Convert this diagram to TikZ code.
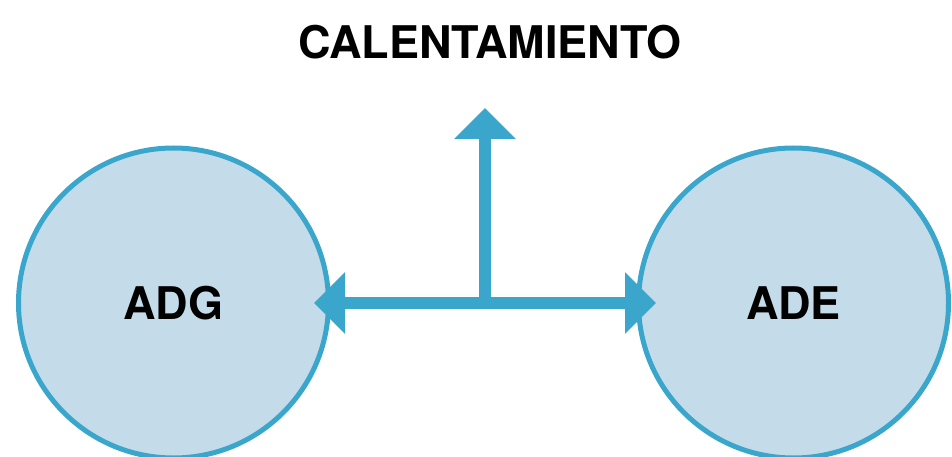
\documentclass[tikz,border=0pt]{standalone}
\usepackage{fontspec}
\setmainfont{TeX Gyre Heros}
\usetikzlibrary{arrows.meta}
\definecolor{cblue}{RGB}{58,166,204}
\definecolor{cfill}{RGB}{196,220,233}
\tikzset{
  blob/.style={circle, draw=cblue, line width=5pt, fill=cfill, minimum size=310pt, inner sep=0pt,
    font=\fontsize{45}{50}\selectfont\bfseries},
  bigarrow/.style={draw=cblue, line width=12pt, -{Triangle[length=31pt,width=60pt]}, color=cblue},
  title/.style={font=\fontsize{45}{50}\selectfont\bfseries}
}
\begin{document}
\begin{tikzpicture}[x=1pt,y=-1pt]
\useasboundingbox (0,0) rectangle (952,457);
\fill[white] (0,0) rectangle (952,457);
\node[blob] (adg) at (173.5,303) {ADG};
\node[blob] (ade) at (793.5,303) {ADE};
\node[title] (cal) at (490,42.5) {CALENTAMIENTO};
\coordinate (j) at (485,303);
\coordinate (lt) at (314,303);
\coordinate (rt) at (656,303);
\coordinate (tt) at (485,108);
\draw[bigarrow] ([xshift=6pt]j) -- (lt);
\draw[bigarrow] ([xshift=-6pt]j) -- (rt);
\draw[bigarrow] ([yshift=6pt]j) -- (tt);
\end{tikzpicture}
\end{document}
